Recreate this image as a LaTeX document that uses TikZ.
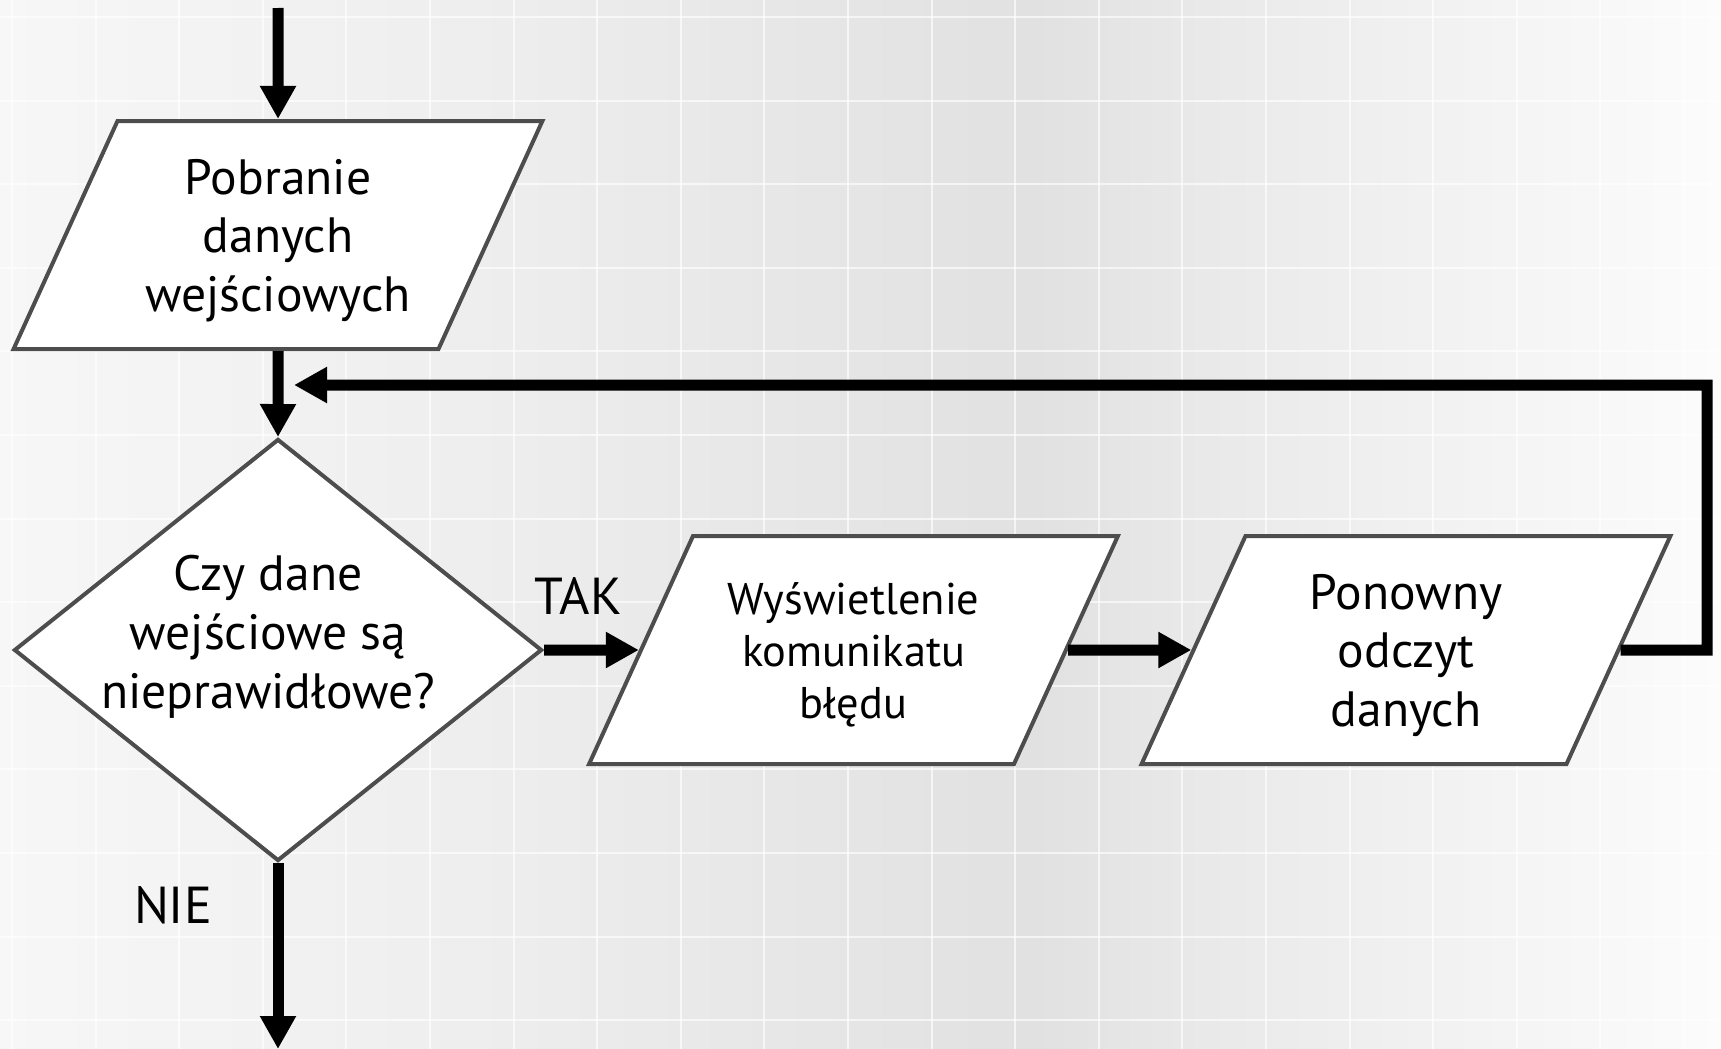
\documentclass[tikz,border=0pt]{standalone}
\usepackage{fontspec}
\setmainfont{PT Sans}
\usepackage{xcolor}
\usepackage{tikz}
\usetikzlibrary{shapes.geometric, positioning, arrows.meta}

\definecolor{edgegray}{HTML}{4D4D4D}
\definecolor{bgA}{HTML}{F7F7F7}
\definecolor{bgB}{HTML}{EDEDED}
\definecolor{bgC}{HTML}{E1E1E1}
\definecolor{bgD}{HTML}{E9E9E9}
\definecolor{bgE}{HTML}{FCFCFC}
\pgfdeclarehorizontalshading{canvas}{100bp}{color(0bp)=(bgA); color(25bp)=(bgA);
  color(40bp)=(bgB); color(55bp)=(bgC); color(60bp)=(bgD); color(75bp)=(bgE); color(100bp)=(bgE)}

\tikzset{
  io/.style={trapezium, trapezium left angle=65.5, trapezium right angle=114.5,
    draw=edgegray, line width=2pt, fill=white, inner sep=0pt,
    text width=160.5pt, align=center, text height=36.6pt, text depth=77.4pt,
    font=\fontsize{24.8}{29.2}\selectfont},
  decision/.style={diamond, draw=edgegray, line width=2pt, fill=white,
    minimum width=264pt, minimum height=211pt, shape aspect=1.25, inner sep=0pt},
  asktext/.style={align=center, inner sep=0pt, font=\fontsize{24.8}{29.5}\selectfont},
  flow/.style={line width=5.5pt, -{Triangle[length=16.5pt,width=17pt]}},
  answer/.style={font=\fontsize{26}{30}\selectfont},
  gridline/.style={white, line width=1pt, opacity=0.65}
}

\begin{document}
\begin{tikzpicture}[x=0.5pt, y=-0.5pt]
  \useasboundingbox (0,0) rectangle (1721,1049);
  \shade[shading=canvas] (0,0) rectangle (1721,1049);
  \foreach \k in {0,...,20} \draw[gridline] ({12+83.6*\k},0) -- ({12+83.6*\k},1049);
  \foreach \k in {0,...,12} \draw[gridline] (0,{17+83.6*\k}) -- (1721,{17+83.6*\k});

  \node[io] (read) at (278,235) {Pobranie\\danych\\wejściowych};
  \node[decision] (check) at (278,650) {};
  \node[asktext] (ask) at (268,637) {Czy dane\\wejściowe są\\nieprawidłowe?};
  \node[io, font=\fontsize{22.2}{26}\selectfont, text height=39pt, text depth=75pt]
    (msg) at (853.5,650) {Wyświetlenie\\komunikatu\\błędu};
  \node[io] (reread) at (1406,650) {Ponowny\\odczyt\\danych};
  \node[answer] (yes) at (578,596) {TAK};
  \node[answer] (no) at (173,905) {NIE};

  \coordinate (entry) at (278,8);
  \coordinate (exit) at (278,1049);
  \coordinate (turn) at (1707,650);
  \coordinate (back) at (294,385);

  \draw[flow] (entry) -- (read.north);
  \draw[flow] (read.south) -- (check.north);
  \draw[flow] (check.east) -- (msg.west);
  \draw[flow] (msg.east) -- (reread.west);
  \draw[flow] (reread.east) -- (turn) |- (back);
  \draw[flow] (check.south) -- (exit);
\end{tikzpicture}
\end{document}
